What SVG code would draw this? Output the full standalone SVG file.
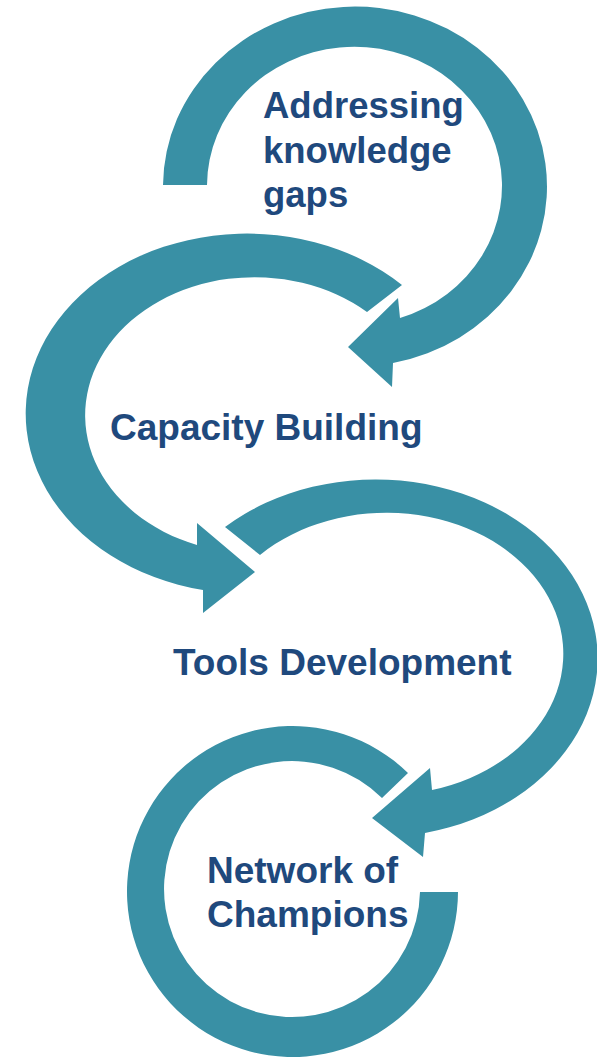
<svg xmlns="http://www.w3.org/2000/svg" width="597" height="1058" viewBox="0 0 597 1058">
<style>
.arrow{fill:#3990A5;stroke:none}
.lbl{font-family:"Liberation Sans",Arial,sans-serif;font-weight:bold;font-size:37px;fill:#1F497D}
.top{font-size:36.5px}
</style>
<rect width="597" height="1058" fill="#ffffff"/>
<g id="connectors">
<path id="arrow1" class="arrow" d="M163,185 A192,180 0 1 1 393,363 L392,387 L348,347 L398,298 L400,318 A147.5,139 0 1 0 207,185 Z"/>
<path id="arrow2" class="arrow" d="M402,285 A221.4,180 0 1 0 203,590 L203,613 L255,572 L197,523 L197,545 A169.4,138 0 1 1 367,312 Z"/>
<path id="arrow3" class="arrow" d="M225,527 A222,179 0 1 1 425,833 L423,857 L372,818 L430,768 L432,790 A177,141 0 1 0 260,555 Z"/>
<path id="arrow4" class="arrow" d="M408,773 A165.5,165.5 0 1 0 458,892 L420,892 A128,128 0 1 1 382,798 Z"/>
</g>
<g id="node-addressing">
<text class="lbl top" x="263" y="118">Addressing</text>
<text class="lbl top" x="263" y="162.5">knowledge</text>
<text class="lbl top" x="263" y="207">gaps</text>
</g>
<g id="node-capacity">
<text class="lbl" x="110" y="440">Capacity Building</text>
</g>
<g id="node-tools">
<text class="lbl" x="173" y="675">Tools Development</text>
</g>
<g id="node-network">
<text class="lbl" x="207" y="883">Network of</text>
<text class="lbl" x="207" y="927">Champions</text>
</g>
</svg>
